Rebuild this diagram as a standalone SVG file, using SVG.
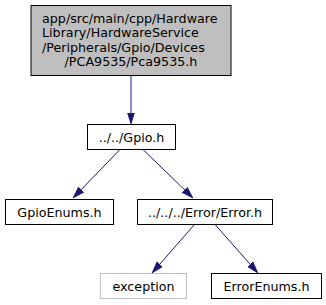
<svg xmlns="http://www.w3.org/2000/svg" width="326" height="305" viewBox="0 0 326 305">
  <style>
    .box { fill: #ffffff; stroke: #000000; stroke-width: 1; }
    .root { fill: #bfbfbf; stroke: #000000; stroke-width: 1; }
    .ext { fill: #ffffff; stroke: #bfbfbf; stroke-width: 1; }
    text { font-family: "DejaVu Sans", sans-serif; font-size: 12.7px; fill: #000000; }
    .edge { stroke: #191970; stroke-width: 1; fill: none; marker-end: url(#arrow); }
  </style>
  <defs>
    <marker id="arrow" markerWidth="12" markerHeight="10" refX="11" refY="5" orient="auto" markerUnits="userSpaceOnUse">
      <path d="M0,1.5 L11,5 L0,8.5 Z" fill="#191970" stroke="#191970" stroke-width="1"/>
    </marker>
  </defs>

  <!-- dependency edges -->
  <g id="edges">
    <line class="edge" x1="131" y1="75.5" x2="131" y2="123.5"/>
    <line class="edge" x1="120" y1="149.5" x2="73.5" y2="197.5"/>
    <line class="edge" x1="143" y1="149.5" x2="192.5" y2="197.5"/>
    <line class="edge" x1="194.5" y1="224.5" x2="152.5" y2="272.5"/>
    <line class="edge" x1="215" y1="224.5" x2="257.5" y2="272.5"/>
  </g>

  <g id="node_pca9535">
    <rect class="root" x="31" y="5.5" width="200" height="70"/>
    <text x="42" y="22.5">app/src/main/cpp/Hardware</text>
    <text x="42" y="37">Library/HardwareService</text>
    <text x="42" y="51.5">/Peripherals/Gpio/Devices</text>
    <text x="131" y="66" text-anchor="middle">/PCA9535/Pca9535.h</text>
  </g>

  <g id="node_gpio">
    <rect class="box" x="87.5" y="124.5" width="88" height="25"/>
    <text x="131.5" y="141.5" text-anchor="middle">../../Gpio.h</text>
  </g>

  <g id="node_gpioenums">
    <rect class="box" x="5.5" y="199.5" width="108" height="25"/>
    <text x="59.5" y="216.5" text-anchor="middle">GpioEnums.h</text>
  </g>

  <g id="node_error">
    <rect class="box" x="137.5" y="199.5" width="135" height="25"/>
    <text x="205" y="216.5" text-anchor="middle">../../../Error/Error.h</text>
  </g>

  <g id="node_exception">
    <rect class="ext" x="100.5" y="273.5" width="86" height="25"/>
    <text x="143.5" y="290.5" text-anchor="middle">exception</text>
  </g>

  <g id="node_errorenums">
    <rect class="box" x="211.5" y="273.5" width="110" height="25"/>
    <text x="266.5" y="290.5" text-anchor="middle">ErrorEnums.h</text>
  </g>
</svg>
